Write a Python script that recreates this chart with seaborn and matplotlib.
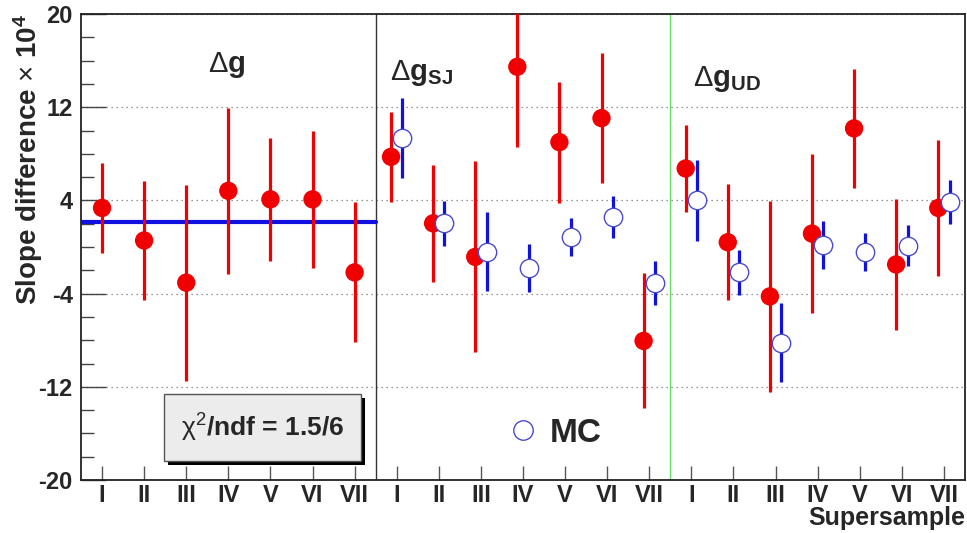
import numpy as np
import pandas as pd
import matplotlib
matplotlib.use("Agg")
import matplotlib.pyplot as plt
from matplotlib.lines import Line2D
from matplotlib.patches import Rectangle
from matplotlib.ticker import MultipleLocator
import seaborn as sns

# values (slope difference x 10^4)
supersamples = ["I", "II", "III", "IV", "V", "VI", "VII"]
panel_names = ["dg", "dg_sj", "dg_ud"]

dg_val = [3.35, 0.56, -3.06, 4.82, 4.09, 4.09, -2.18]
dg_err = [3.9, 5.1, 8.4, 7.1, 5.3, 5.9, 6.0]

sj_val = [7.74, 2.03, -0.85, 15.47, 9.0, 11.06, -8.06]
sj_err = [3.85, 5.0, 8.2, 6.85, 5.2, 5.6, 5.8]
sj_mc_val = [9.35, 2.03, -0.41, -1.79, 0.85, 2.59, -3.12]
sj_mc_err = [3.45, 1.95, 3.4, 2.05, 1.65, 1.8, 1.9]

ud_val = [6.74, 0.41, -4.24, 1.15, 10.18, -1.5, 3.35]
ud_err = [3.75, 5.0, 8.2, 6.85, 5.1, 5.6, 5.85]
ud_mc_val = [4.0, -2.18, -8.2, 0.18, -0.41, 0.12, 3.85]
ud_mc_err = [3.45, 1.95, 3.4, 2.05, 1.65, 1.75, 1.9]

fit_value = 2.15  # constant fit to the dg points
chi2_text = r"$\mathrm{\chi}^{2}$/ndf = 1.5/6"

RED = "#f00000"
BLUE = "#1010e0"
MC_EDGE = "#4a4ad0"


def build_table():
    rows = []
    series = [
        (0, "Data", dg_val, dg_err),
        (1, "Data", sj_val, sj_err),
        (1, "MC", sj_mc_val, sj_mc_err),
        (2, "Data", ud_val, ud_err),
        (2, "MC", ud_mc_val, ud_mc_err),
    ]
    for panel, sample, vals, errs in series:
        for i, (v, e) in enumerate(zip(vals, errs)):
            # data and MC sit side by side in the two right panels
            shift = 0.0
            if panel > 0:
                shift = -0.135 if sample == "Data" else 0.135
            rows.append({
                "panel": panel_names[panel],
                "supersample": supersamples[i],
                "sample": sample,
                "x": panel * 7 + i + 0.5 + shift,
                "value": v,
                "err": e,
            })
    return pd.DataFrame(rows)


df = build_table()

sns.set_theme(style="white")
plt.rcParams["font.family"] = ["Liberation Sans", "DejaVu Sans"]
plt.rcParams["mathtext.fontset"] = "custom"
plt.rcParams["mathtext.rm"] = "Liberation Sans"
plt.rcParams["mathtext.it"] = "Liberation Sans"
plt.rcParams["mathtext.bf"] = "Liberation Sans:bold"

fig = plt.figure(figsize=(9.67, 5.33), dpi=100)
ax = fig.add_axes([81 / 967, 53 / 533, 884 / 967, 466 / 533])

data = df[df["sample"] == "Data"]
mc = df[df["sample"] == "MC"]

# fit line over the first panel
ax.plot([0, 7], [fit_value, fit_value], color=BLUE, lw=3, zorder=2)

ax.errorbar(data["x"], data["value"], yerr=data["err"], fmt="none",
            ecolor=RED, elinewidth=2.3, capsize=0, zorder=3)
sns.scatterplot(data=data, x="x", y="value", ax=ax, color=RED, s=175,
                edgecolor="none", zorder=4, legend=False)

ax.errorbar(mc["x"], mc["value"], yerr=mc["err"], fmt="none",
            ecolor=BLUE, elinewidth=2.3, capsize=0, zorder=5)
sns.scatterplot(data=mc, x="x", y="value", ax=ax, color="white", s=175,
                edgecolor=MC_EDGE, linewidth=1.0, zorder=6, legend=False)

# panel dividers
ax.axvline(7, color="#333333", lw=1.0, zorder=1)
ax.axvline(14, color="#66dd66", lw=1.0, zorder=1)

ax.set_xlim(0, 21)
ax.set_ylim(-20, 20)

centers = np.arange(21) + 0.5
ax.set_xticks(centers)
ax.set_xticklabels(supersamples * 3, fontsize=17, fontweight="bold")
ax.set_yticks(np.arange(-20, 21, 8))
ax.set_yticklabels([str(t) for t in range(-20, 21, 8)], fontsize=17, fontweight="bold")
ax.yaxis.set_minor_locator(MultipleLocator(2))
ax.tick_params(axis="x", which="major", direction="in", length=10, width=1,
               color="#555555", pad=3, bottom=True, top=False)
ax.tick_params(axis="x", which="minor", bottom=False, top=False)
ax.tick_params(axis="y", which="major", direction="in", length=18, width=1,
               color="#444444", pad=6, left=True, right=False)
ax.tick_params(axis="y", which="minor", direction="in", length=9, width=1,
               color="#444444", left=True, right=False)

ax.yaxis.grid(True, which="major", linestyle=(0, (1, 3)), color="#777777", lw=0.9)
ax.xaxis.grid(False)
for s in ax.spines.values():
    s.set_color("#222222")
    s.set_linewidth(1.3)

ax.set_xlabel("Supersample", fontsize=18, fontweight="bold", loc="right", labelpad=-1)
ax.set_ylabel(r"Slope difference $\times$ 10$^{\mathbf{4}}$", fontsize=20,
              fontweight="bold", loc="top", labelpad=-5)

# panel titles
ax.text(3.45, 15.0, r"$\Delta\mathbf{g}$", fontsize=21, ha="center", va="baseline")
ax.text(7.35, 14.3, r"$\Delta\mathbf{g}_{\mathbf{SJ}}$", fontsize=21, ha="left", va="baseline")
ax.text(14.55, 13.8, r"$\Delta\mathbf{g}_{\mathbf{UD}}$", fontsize=21, ha="left", va="baseline")

# chi2 box with shadow
ax.add_patch(Rectangle((0.098, 0.032), 0.223, 0.144, transform=ax.transAxes,
                       facecolor="black", edgecolor="none", zorder=7))
ax.add_patch(Rectangle((0.094, 0.041), 0.223, 0.144, transform=ax.transAxes,
                       facecolor="#ececec", edgecolor="#555555", lw=1.0, zorder=8))
ax.text(0.205, 0.112, chi2_text, transform=ax.transAxes, fontsize=19,
        fontweight="bold", ha="center", va="center", zorder=9)

# MC legend
mc_handle = Line2D([], [], marker="o", linestyle="none", markersize=14,
                   markerfacecolor="white", markeredgecolor=MC_EDGE, markeredgewidth=1.0)
ax.legend([mc_handle], ["MC"], loc="center", bbox_to_anchor=(0.535, 0.10),
          frameon=False, handlelength=1.0, handletextpad=0.3, borderpad=0,
          prop={"weight": "bold", "size": 24})

fig.savefig("out.png", dpi=100)
